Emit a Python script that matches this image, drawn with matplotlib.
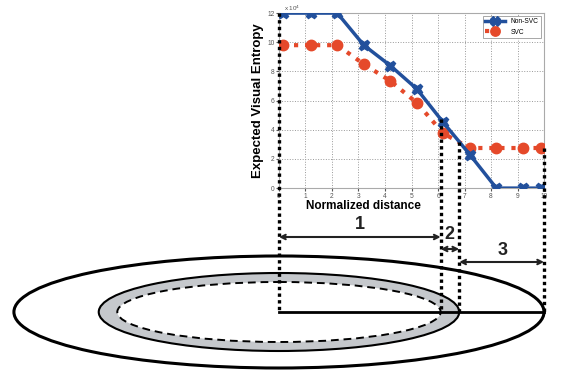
import numpy as np
import matplotlib
matplotlib.use("Agg")
import matplotlib.pyplot as plt
from matplotlib.patches import Ellipse

plt.rcParams['font.family'] = ['Liberation Sans', 'DejaVu Sans']

# entropy values in units of 1e4
dist = [0.15, 1.2, 2.2, 3.2, 4.2, 5.2, 6.2, 7.2, 8.2, 9.2, 9.9]
non_svc = [12.0, 12.0, 12.0, 9.8, 8.4, 6.8, 4.5, 2.3, 0.0, 0.0, 0.0]
svc = [9.8, 9.8, 9.8, 8.5, 7.35, 5.85, 3.75, 2.75, 2.75, 2.75, 2.75]
xticks = list(range(0, 11))
yticks = [0, 2, 4, 6, 8, 10, 12]
region_labels = ['1', '2', '3']
region_bounds = [0, 6.1, 6.8, 10]

blue = '#22509c'
red = '#e5492a'

fig = plt.figure(figsize=(5.8, 3.74), dpi=100)
ax = fig.add_axes([0.481, 0.497, 0.457, 0.468])
ax.plot(dist, non_svc, color=blue, lw=2.5, marker='X', ms=7.5, label='Non-SVC', zorder=4)
ax.plot(dist, svc, color=red, lw=3, ls=':', marker='o', ms=7.5, label='SVC', zorder=3)
ax.set_xlim(0, 10)
ax.set_ylim(0, 12)
ax.set_xticks(xticks)
ax.set_yticks(yticks)
ax.tick_params(labelsize=4.8, colors='#555555', length=2, pad=1.2)
ax.grid(color='#999999', ls=':', lw=0.7)
for s in ax.spines.values():
    s.set_color('#aaaaaa')
    s.set_linewidth(0.8)
ax.text(0.02, 1.0, r'x 10$^4$', transform=ax.transAxes, fontsize=4.5,
        color='#555555', va='bottom')
ax.text(0.317, -0.1, 'Normalized distance', transform=ax.transAxes,
        fontsize=8.5, fontweight='bold', ha='center', va='center')
ax.text(-0.078, 0.5, 'Expected Visual Entropy', transform=ax.transAxes,
        fontsize=9.5, fontweight='bold', ha='center', va='center', rotation=90)
leg = ax.legend(loc='upper right', fontsize=4.8, borderaxespad=0.4,
                handlelength=3, markerscale=0.9, fancybox=False, framealpha=1)
leg.get_frame().set_edgecolor('#999999')
leg.get_frame().set_linewidth(0.6)

# overlay in pixel coordinates for the distance diagram
ov = fig.add_axes([0, 0, 1, 1], zorder=5)
ov.set_xlim(0, 580)
ov.set_ylim(374, 0)
ov.axis('off')
ov.patch.set_alpha(0)


def px(x, y=0.0):
    d = ax.transData.transform((x, y))
    return d[0], 374 - d[1]


base_y = 312
cx = px(0)[0]
r_in = px(region_bounds[1])[0] - cx
r_ring = px(region_bounds[2])[0] - cx
r_out = px(region_bounds[3])[0] - cx

ov.add_patch(Ellipse((cx, base_y), 2 * r_out, 112, fill=False, ec='black', lw=2.2))
ov.add_patch(Ellipse((cx, base_y), 2 * r_ring, 78, fc='#c5c8cc', ec='black', lw=1.5))
ov.add_patch(Ellipse((cx, base_y), 2 * r_in, 60, fc='white', ec='black', lw=1.4, ls=(0, (4, 2.5))))
ov.plot([cx, cx + r_out], [base_y, base_y], color='black', lw=2)

for b in region_bounds:
    top = max(np.interp(b, dist, non_svc), np.interp(b, dist, svc))
    x0, y0 = px(b, top)
    ov.plot([x0, x0], [y0, base_y], color='black', lw=2.4, ls=(0, (1, 1)))

arrow_y = [237, 249, 262]
label_pos = [(360, 224), (449, 234), (503, 250)]
for i, lab in enumerate(region_labels):
    xa = px(region_bounds[i])[0]
    xb = px(region_bounds[i + 1])[0]
    ov.annotate('', xy=(xb, arrow_y[i]), xytext=(xa, arrow_y[i]),
                arrowprops=dict(arrowstyle='<->', lw=1.5, color='#222222',
                                mutation_scale=8, shrinkA=0, shrinkB=0))
    ov.text(label_pos[i][0], label_pos[i][1], lab, fontsize=13, fontweight='bold',
            color='#222222', ha='center', va='center')

fig.savefig('out.png', dpi=100)
